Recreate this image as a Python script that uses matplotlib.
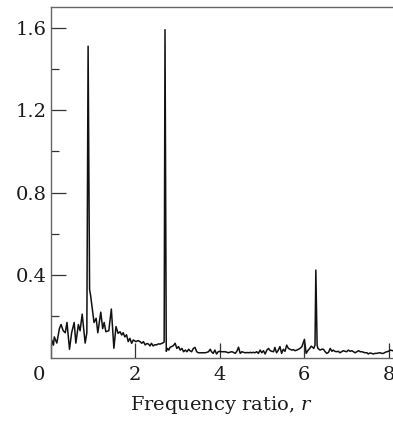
import matplotlib
matplotlib.use("Agg")
import matplotlib.pyplot as plt
import matplotlib.transforms as mtransforms

# values
freq_ratio = [
    0.0, 0.03, 0.07, 0.09, 0.15, 0.21, 0.25, 0.30, 0.35, 0.39,
    0.45, 0.50, 0.56, 0.60, 0.66, 0.70, 0.75, 0.82, 0.86, 0.89,
    0.925, 0.95, 0.98, 1.03, 1.08, 1.12, 1.19, 1.235, 1.27, 1.31,
    1.38, 1.44, 1.50, 1.55, 1.60, 1.645, 1.685, 1.72, 1.76, 1.80,
    1.84, 1.88, 1.92, 1.96, 2.02, 2.07, 2.12, 2.16, 2.20, 2.24,
    2.28, 2.32, 2.355, 2.39, 2.43, 2.47, 2.51, 2.55, 2.59, 2.63,
    2.67, 2.69, 2.71, 2.74, 2.77, 2.80, 2.83, 2.87, 2.91, 2.95,
    2.99, 3.03, 3.07, 3.11, 3.15, 3.19, 3.23, 3.27, 3.30, 3.34,
    3.38, 3.42, 3.46, 3.50, 3.54, 3.58, 3.62, 3.66, 3.70, 3.74,
    3.78, 3.81, 3.85, 3.89, 3.93, 3.97, 4.01, 4.05, 4.09, 4.13,
    4.17, 4.21, 4.25, 4.29, 4.33, 4.37, 4.41, 4.45, 4.49, 4.53,
    4.57, 4.61, 4.65, 4.69, 4.73, 4.76, 4.80, 4.84, 4.88, 4.92,
    4.96, 5.00, 5.04, 5.08, 5.12, 5.16, 5.20, 5.24, 5.28, 5.31,
    5.35, 5.39, 5.43, 5.47, 5.51, 5.55, 5.59, 5.63, 5.67, 5.71,
    5.75, 5.79, 5.83, 5.87, 5.91, 5.95, 5.98, 6.01, 6.05, 6.10,
    6.14, 6.17, 6.20, 6.23, 6.26, 6.28, 6.31, 6.33, 6.38, 6.42,
    6.46, 6.50, 6.54, 6.58, 6.62, 6.66, 6.69, 6.73, 6.77, 6.81,
    6.85, 6.89, 6.93, 6.97, 7.01, 7.05, 7.09, 7.13, 7.17, 7.21,
    7.25, 7.29, 7.33, 7.37, 7.41, 7.45, 7.49, 7.52, 7.56, 7.60,
    7.64, 7.68, 7.72, 7.76, 7.80, 7.84, 7.88, 7.92, 7.96, 8.00,
    8.04, 8.10,
]
amplitude = [
    0.0, 0.085, 0.06, 0.10, 0.07, 0.14, 0.16, 0.13, 0.12, 0.17,
    0.04, 0.12, 0.17, 0.07, 0.16, 0.13, 0.21, 0.07, 0.12, 1.51,
    0.33, 0.30, 0.25, 0.17, 0.19, 0.12, 0.22, 0.14, 0.17, 0.125,
    0.13, 0.235, 0.045, 0.15, 0.117, 0.125, 0.109, 0.12, 0.10, 0.11,
    0.077, 0.093, 0.069, 0.085, 0.077, 0.082, 0.077, 0.069, 0.077, 0.061,
    0.068, 0.065, 0.056, 0.069, 0.056, 0.062, 0.061, 0.066, 0.065, 0.068,
    0.072, 0.075, 1.59, 0.03, 0.044, 0.036, 0.05, 0.053, 0.058, 0.069,
    0.044, 0.053, 0.036, 0.044, 0.028, 0.036, 0.028, 0.04, 0.033, 0.028,
    0.044, 0.049, 0.028, 0.023, 0.023, 0.023, 0.023, 0.023, 0.025, 0.028,
    0.04, 0.028, 0.02, 0.036, 0.017, 0.028, 0.03, 0.028, 0.028, 0.028,
    0.026, 0.023, 0.026, 0.028, 0.025, 0.02, 0.03, 0.05, 0.02, 0.028,
    0.025, 0.023, 0.024, 0.023, 0.025, 0.023, 0.025, 0.023, 0.028, 0.02,
    0.036, 0.023, 0.033, 0.017, 0.036, 0.044, 0.033, 0.03, 0.028, 0.049,
    0.023, 0.035, 0.053, 0.02, 0.04, 0.03, 0.06, 0.044, 0.04, 0.036,
    0.038, 0.033, 0.036, 0.04, 0.045, 0.053, 0.07, 0.088, 0.02, 0.036,
    0.045, 0.055, 0.05, 0.044, 0.06, 0.424, 0.06, 0.044, 0.036, 0.04,
    0.04, 0.028, 0.02, 0.025, 0.044, 0.03, 0.036, 0.03, 0.028, 0.03,
    0.023, 0.028, 0.033, 0.03, 0.028, 0.036, 0.03, 0.033, 0.028, 0.023,
    0.028, 0.033, 0.028, 0.028, 0.025, 0.023, 0.023, 0.017, 0.022, 0.02,
    0.017, 0.02, 0.02, 0.022, 0.023, 0.02, 0.02, 0.025, 0.028, 0.03,
    0.036, 0.033,
]
x_ticks = [0, 2, 4, 6, 8]
y_ticks = [0.4, 0.8, 1.2, 1.6]
y_minor = [0.2, 0.6, 1.0, 1.4]
y_labels = ["0.4", "0.8", "1.2", "1.6"]

plt.rcParams["font.family"] = ["DejaVu Serif"]
plt.rcParams["mathtext.fontset"] = "dejavuserif"

fig = plt.figure(figsize=(3.93, 4.21), dpi=100)
ax = fig.add_axes([50.5 / 393, 1 - 357.5 / 421, 1 - 50.5 / 393, (357.5 - 7) / 421])

ax.plot(freq_ratio, amplitude, color="#111111", lw=1.1)

ax.set_xlim(0, 8.106)
ax.set_ylim(0, 1.70)

for side in ["left", "bottom", "top"]:
    ax.spines[side].set_color("#666666")
    ax.spines[side].set_linewidth(1.0)
ax.spines["right"].set_visible(False)

ax.set_xticks(x_ticks)
ax.set_yticks(y_ticks)
ax.set_yticklabels(y_labels)
ax.set_yticks(y_minor, minor=True)
ax.tick_params(axis="both", which="major", direction="in", length=10.5,
               width=0.9, color="#333333", labelsize=14, labelcolor="#1a1a1a")
ax.tick_params(axis="y", which="minor", direction="in", length=6,
               width=0.9, color="#333333")
ax.tick_params(axis="x", pad=6)
ax.tick_params(axis="y", pad=3)

# the "0" on the x axis sits left of the y spine
shift = mtransforms.ScaledTranslation(-12 / 100, 0, fig.dpi_scale_trans)
lab0 = ax.get_xticklabels()[0]
lab0.set_transform(lab0.get_transform() + shift)

ax.set_xlabel(r"Frequency ratio, $r$", fontsize=14, color="#1a1a1a", labelpad=7)

fig.savefig("out.png", dpi=100)
